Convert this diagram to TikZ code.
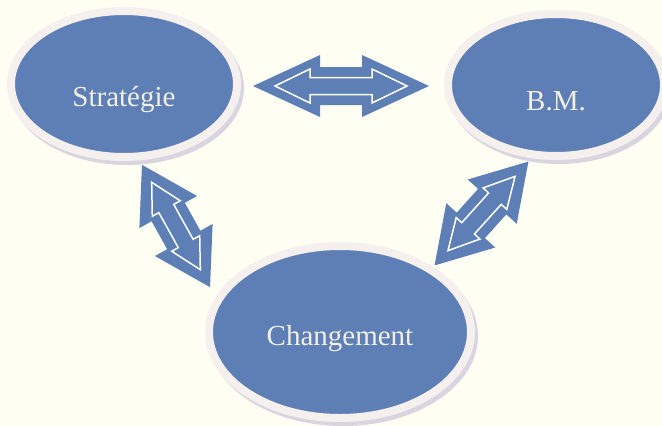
\documentclass[tikz,border=0pt]{standalone}
\usepackage{fontspec}
\setmainfont{Liberation Serif}
\usetikzlibrary{shapes.geometric,calc}
\definecolor{bgc}{HTML}{FEFEF3}
\definecolor{nodeblue}{HTML}{5D7FB6}
\definecolor{haloc}{HTML}{F5F0EE}
\definecolor{shadec}{HTML}{D8D4E0}
\definecolor{txtc}{HTML}{F2F0E4}
\newcommand\arrowshape[4]{({-(#1)/2},0) -- ({-(#1)/2+(#2)},{#3}) -- ({-(#1)/2+(#2)},{#4}) -- ({(#1)/2-(#2)},{#4}) -- ({(#1)/2-(#2)},{#3}) -- ({(#1)/2},0) -- ({(#1)/2-(#2)},{-(#3)}) -- ({(#1)/2-(#2)},{-(#4)}) -- ({-(#1)/2+(#2)},{-(#4)}) -- ({-(#1)/2+(#2)},{-(#3)}) -- cycle}
\tikzset{
  bubble/.style={ellipse, fill=nodeblue, draw=haloc, line width=8pt, inner sep=0pt, outer sep=0pt,
    text=txtc, font=\fontsize{29}{34}\selectfont, text height=0pt, text depth=0pt},
  outerarrow/.style={fill=nodeblue},
  innerarrow/.style={fill=nodeblue, draw=white, line width=1.5pt, line join=miter},
  shadowfill/.style={fill=shadec}
}
\begin{document}
\begin{tikzpicture}[x=1pt,y=-1pt]
\useasboundingbox (0,0) rectangle (662,426);
\fill[bgc] (0,0) rectangle (662,426);
% centres
\coordinate (cS) at (124,84);
\coordinate (cB) at (556,85);
\coordinate (cC) at (340,332);
% shadows
\fill[shadowfill] ($(cS)+(3,4)$) ellipse [x radius=117pt, y radius=77pt];
\fill[shadowfill] ($(cB)+(3,4)$) ellipse [x radius=112pt, y radius=75pt];
\fill[shadowfill] ($(cC)+(3,4)$) ellipse [x radius=135pt, y radius=90pt];
% ellipses
\node[bubble, minimum width=226pt, minimum height=146pt] (strat) at (cS) {\raisebox{-22pt}{Stratégie}};
\node[bubble, minimum width=216pt, minimum height=142pt] (bm) at (cB) {\raisebox{-25pt}{B.M.}};
\node[bubble, minimum width=262pt, minimum height=172pt] (chg) at (cC) {\raisebox{-13pt}{Changement}};
% arrows
\coordinate (aTop) at (341,86);
\coordinate (aLeft) at (176,226);
\coordinate (aRight) at (481.5,213.5);
\begin{scope}[shift={(aTop)}]
  \path[outerarrow] \arrowshape{176}{67}{31}{19};
  \path[innerarrow] \arrowshape{132}{35}{17}{8.5};
\end{scope}
\begin{scope}[shift={(aLeft)}, rotate=-60.9]
  \path[outerarrow] \arrowshape{140}{54}{33}{19};
  \path[innerarrow] \arrowshape{100}{30}{16}{8.5};
\end{scope}
\begin{scope}[shift={(aRight)}, rotate=47.9]
  \path[outerarrow] \arrowshape{140}{54}{33}{19};
  \path[innerarrow] \arrowshape{100}{30}{16}{8.5};
\end{scope}
\end{tikzpicture}
\end{document}
